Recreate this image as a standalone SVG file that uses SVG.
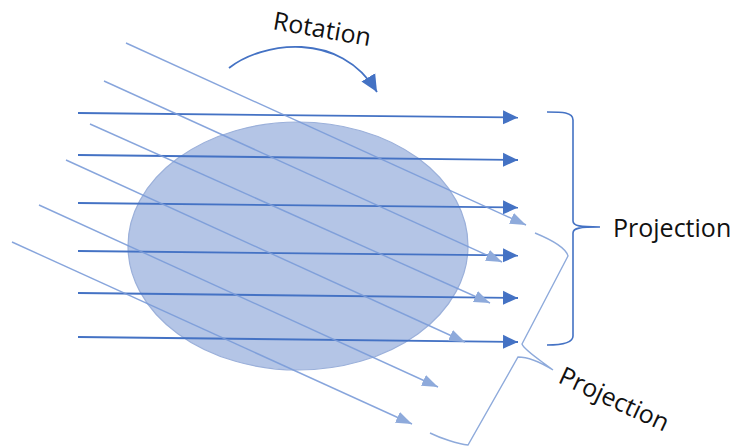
<svg xmlns="http://www.w3.org/2000/svg" width="737" height="447" viewBox="0 0 737 447">
<style>
.h{stroke:#4472c4;stroke-width:1.8;fill:none}
.d{stroke:#7a9bd8;stroke-width:1.4;fill:none;stroke-opacity:0.9}
.b1{stroke:#4472c4;stroke-width:1.6;fill:none}
.b2{stroke:#8eaadb;stroke-width:1.4;fill:none}
.t{font-family:"Open Sans","Liberation Sans",sans-serif;font-size:25px;fill:#111111}
</style>
<defs>
<marker id="ah" markerUnits="userSpaceOnUse" markerWidth="16" markerHeight="16" refX="15" refY="8" orient="auto" viewBox="0 0 16 16">
<path d="M0,1 L15,8 L0,15 Z" fill="#4472c4"/>
</marker>
<marker id="al" markerUnits="userSpaceOnUse" markerWidth="17" markerHeight="14" refX="16" refY="7" orient="auto" viewBox="0 0 17 14">
<path d="M0,1 L16,7 L0,13 Z" fill="#8eaadb"/>
</marker>
<marker id="ar" markerUnits="userSpaceOnUse" markerWidth="18" markerHeight="18" refX="17" refY="9" orient="auto" viewBox="0 0 18 18">
<path d="M0,1 L17,9 L0,17 Z" fill="#4472c4"/>
</marker>
</defs>
<rect width="737" height="447" fill="#ffffff"/>
<g id="ellipse">
<ellipse cx="298" cy="246" rx="170" ry="124" fill="#b4c5e6" stroke="#9bb0da" stroke-width="1.2"/>
</g>
<g id="connectors">
<line class="h" x1="78" y1="113" x2="518" y2="117.5" marker-end="url(#ah)"/>
<line class="h" x1="78" y1="155" x2="518" y2="160" marker-end="url(#ah)"/>
<line class="h" x1="78" y1="203" x2="518" y2="207.5" marker-end="url(#ah)"/>
<line class="h" x1="78" y1="251" x2="518" y2="255.5" marker-end="url(#ah)"/>
<line class="h" x1="78" y1="293" x2="518" y2="298" marker-end="url(#ah)"/>
<line class="h" x1="78" y1="337" x2="518" y2="342" marker-end="url(#ah)"/>
<line class="d" x1="126" y1="43" x2="526" y2="225" marker-end="url(#al)"/>
<line class="d" x1="104" y1="81" x2="502" y2="262" marker-end="url(#al)"/>
<line class="d" x1="90" y1="124" x2="490" y2="303" marker-end="url(#al)"/>
<line class="d" x1="66" y1="160" x2="465" y2="342" marker-end="url(#al)"/>
<line class="d" x1="39" y1="205" x2="438" y2="387" marker-end="url(#al)"/>
<line class="d" x1="12" y1="242" x2="412" y2="424" marker-end="url(#al)"/>
<path d="M229,68 C262,42 340,30 377,92" fill="none" stroke="#4472c4" stroke-width="1.8" marker-end="url(#ar)"/>
</g>
<g id="brace-right">
<path class="b1" d="M547,112 C562,112 573,112 573,120 L573,221 C573,226 580,227 600,227 M600,227 C580,227 573,228 573,233 L573,336 C573,343 562,345 547,345"/>
</g>
<g id="brace-diag">
<path class="b2" d="M535,233 C552,240 566,248 568,256 L522,344 C524,350 540,360 553,370 M553,370 C540,362 528,357 518,357 L468,445 C458,444 440,438 430,433"/>
</g>
<g id="label-rotation">
<text class="t" x="272" y="29" transform="rotate(10 272 29)">Rotation</text>
</g>
<g id="label-projection">
<text class="t" x="613" y="237">Projection</text>
</g>
<g id="label-projection-diag">
<text class="t" x="557" y="382" transform="rotate(25 557 382)">Projection</text>
</g>
</svg>
